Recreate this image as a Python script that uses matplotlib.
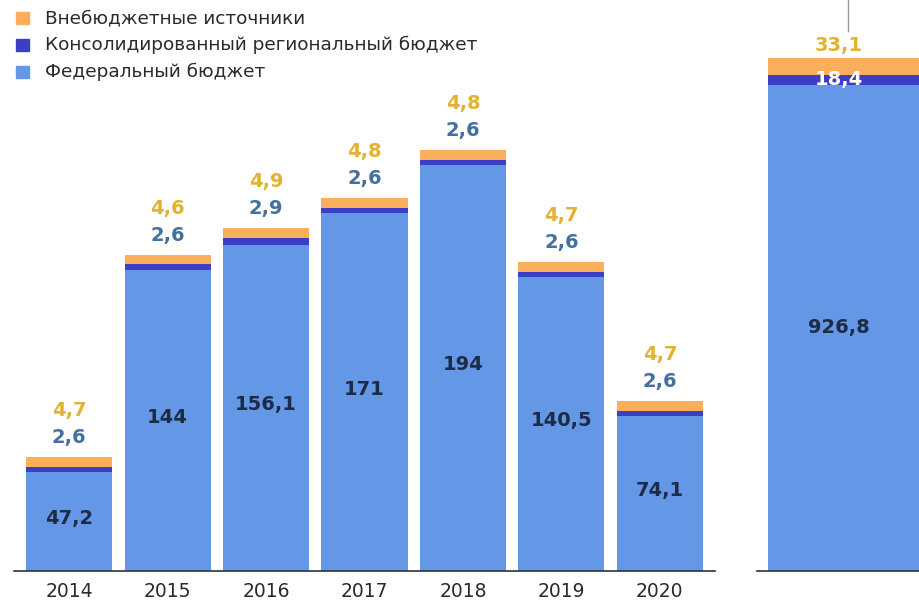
import matplotlib.pyplot as plt
from matplotlib.patches import Rectangle
from matplotlib.lines import Line2D

years = ['2014', '2015', '2016', '2017', '2018', '2019', '2020']
federal = [47.2, 144, 156.1, 171, 194, 140.5, 74.1]
regional = [2.6, 2.6, 2.9, 2.6, 2.6, 2.6, 2.6]
offbudget = [4.7, 4.6, 4.9, 4.8, 4.8, 4.7, 4.7]

total_federal = 926.8
total_regional = 18.4
total_offbudget = 33.1

legend_labels = ['Внебюджетные источники',
                 'Консолидированный региональный бюджет',
                 'Федеральный бюджет']

c_fed = '#6497E6'
c_reg = '#3C3FC6'
c_off = '#FBAF5D'
c_gold = '#E2B232'
c_steel = '#44709F'
c_navy = '#1D2B47'

plt.rcParams['font.family'] = ['DejaVu Sans']

W, H = 920, 603
fig = plt.figure(figsize=(W / 100, H / 100), dpi=100)

def px_axes(x0, x1, y_top, y_bot):
    return fig.add_axes([x0 / W, 1 - y_bot / H, (x1 - x0) / W, (y_bot - y_top) / H])

def fmt(v):
    return f'{v:g}'.replace('.', ',')

# yearly bars
ax = px_axes(14, 715, 0, 571)
x = list(range(len(years)))
bw = 0.875
ax.bar(x, federal, bw, color=c_fed)
ax.bar(x, regional, bw, bottom=federal, color=c_reg)
bot2 = [f + r for f, r in zip(federal, regional)]
ax.bar(x, offbudget, bw, bottom=bot2, color=c_off)
ax.set_xlim(-0.56, 6.56)
ax.set_ylim(0, 273)

vfont = dict(fontweight='bold', fontsize=14, ha='center', va='center')
for i in x:
    top = bot2[i] + offbudget[i]
    ax.text(i, federal[i] / 2 + 1.5, fmt(federal[i]), color=c_navy, **vfont)
    ax.annotate(fmt(regional[i]), (i, top), xytext=(0, 14),
                textcoords='offset points', color=c_steel, **vfont)
    ax.annotate(fmt(offbudget[i]), (i, top), xytext=(0, 33.5),
                textcoords='offset points', color=c_gold, **vfont)

ax.set_xticks(x)
ax.set_xticklabels(years, fontsize=13.5, color='#2a2a2a')
ax.tick_params(axis='x', length=0, pad=8)
ax.set_yticks([])
for s in ['top', 'left', 'right']:
    ax.spines[s].set_visible(False)
ax.spines['bottom'].set_color('#2e3243')
ax.spines['bottom'].set_linewidth(1.2)

# cumulative bar
ax2 = px_axes(757, 920, 0, 571)
ax2.bar(0.0675, total_federal, 2, align='edge', color=c_fed)
ax2.bar(0.0675, total_regional, 2, bottom=total_federal, align='edge', color=c_reg)
ax2.bar(0.0675, total_offbudget, 2, bottom=total_federal + total_regional,
        align='edge', color=c_off)
ax2.set_xlim(0, 1)
ax2.set_ylim(0, 1088)
ax2.set_xticks([])
ax2.set_yticks([])
for s in ['top', 'left', 'right']:
    ax2.spines[s].set_visible(False)
ax2.spines['bottom'].set_color('#2e3243')
ax2.spines['bottom'].set_linewidth(1.2)
xc = 0.5
ax2.text(xc, total_federal / 2, fmt(total_federal), color=c_navy, **vfont)
ax2.text(xc, total_federal + total_regional / 2, fmt(total_regional), color='white', **vfont)
ax2.annotate(fmt(total_offbudget), (xc, total_federal + total_regional + total_offbudget),
             xytext=(0, 9), textcoords='offset points', color=c_gold, **vfont)

# leader line above the cumulative bar
fig.add_artist(Line2D([848 / W, 848 / W], [1, 1 - 31 / H], color='#9a9a9a', lw=1))

# legend
for k, (lab, col) in enumerate(zip(legend_labels, [c_off, c_reg, c_fed])):
    yc = 18 + 27 * k
    fig.add_artist(Rectangle((16 / W, 1 - (yc + 6) / H), 13 / W, 12 / H,
                             color=col, transform=fig.transFigure))
    fig.text(45 / W, 1 - yc / H, lab, fontsize=13.3, color='#2a2a2a', va='center')

fig.savefig('out.png', dpi=100)
